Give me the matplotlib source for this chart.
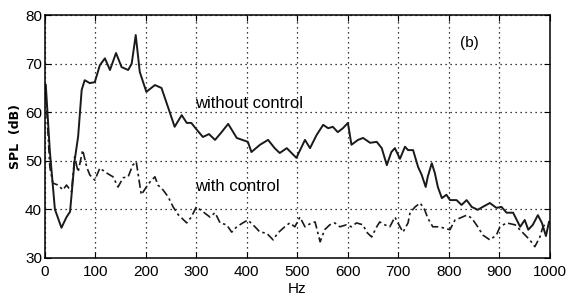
#!/usr/bin/env python3
"""SPL spectrum with and without control, panel (b)."""
import matplotlib
matplotlib.use("Agg")
import matplotlib.pyplot as plt

plt.rcParams.update({
    "font.family": ["Liberation Sans Narrow", "Liberation Sans", "DejaVu Sans"],
    "font.size": 11,
})

# without control (solid)
freq_off = [2, 10, 20, 33, 43, 50, 59, 66, 73, 79, 89, 99, 109, 119, 129, 141,
            152, 165, 172, 180, 188, 201, 218, 231, 248, 257, 271, 281, 290,
            300, 313, 325, 337, 350, 363, 380, 402, 409, 426, 442, 455, 465,
            479, 498, 515, 525, 538, 551, 561, 570, 580, 590, 600, 607, 620,
            630, 644, 657, 667, 677, 686, 693, 703, 713, 719, 729, 739, 746,
            754, 758, 766, 772, 778, 786, 795, 802, 815, 825, 835, 845, 857,
            867, 881, 894, 904, 914, 927, 941, 950, 957, 966, 976, 984, 992, 998]
spl_off = [65.6, 52, 40, 36.2, 38.4, 39.5, 50, 55, 64.6, 66.6, 66, 66.2, 69.7,
           71.1, 68.7, 72.2, 69.3, 68.7, 70, 75.9, 68.3, 64.2, 65.6, 65, 59.8,
           57, 59.4, 57.8, 57.8, 56.5, 54.9, 55.5, 54.3, 55.9, 57.6, 54.7, 53.9,
           51.8, 53.3, 54.3, 52.6, 51.6, 52.6, 50.6, 54.3, 52.6, 55.3, 57.4,
           56.7, 57, 55.9, 56.7, 57.8, 53.3, 54.3, 54.7, 53.7, 53.9, 52.6, 49.1,
           51.8, 52.6, 50.4, 52.9, 52.2, 52.2, 48.7, 47.1, 44.6, 46.7, 49.5,
           47.5, 44.6, 42.3, 43, 41.9, 41.9, 40.9, 41.9, 40.5, 39.9, 40.5, 41.3,
           40.3, 40.5, 39.3, 39.3, 36.4, 37.8, 35.8, 36.8, 38.8, 37.2, 34.5, 37.4]

# with control (dash-dot)
freq_on = [2, 10, 16, 26, 36, 43, 53, 59, 66, 75, 83, 89, 99, 109, 122, 135,
           145, 155, 165, 174, 181, 191, 201, 208, 218, 224, 234, 244, 254,
           264, 281, 290, 300, 313, 327, 337, 347, 360, 370, 380, 392, 402,
           416, 426, 439, 452, 461, 475, 485, 495, 505, 515, 528, 535, 545,
           554, 564, 574, 584, 597, 607, 617, 630, 637, 647, 657, 663, 673,
           683, 693, 699, 709, 719, 723, 733, 743, 752, 758, 768, 778, 788,
           802, 812, 822, 835, 845, 857, 867, 881, 894, 901, 914, 931, 947,
           960, 970, 980, 986, 993]
spl_on = [64, 48.7, 45.4, 45, 44, 45, 43.6, 50.8, 47.7, 52.2, 48.7, 47.1, 46,
          48.5, 47.5, 46.7, 44.6, 46.5, 46.7, 49.1, 49.8, 43, 44.6, 45.6, 46.7,
          45, 44, 42.6, 40.5, 38.9, 37.2, 38.4, 40.5, 39.5, 38.4, 39.3, 37.2,
          36.8, 35.3, 36.4, 37.2, 37.8, 36.4, 35.3, 35.1, 33.7, 35.1, 36.4, 37.2,
          36.4, 38.4, 36.4, 37.2, 37.4, 33.3, 35.8, 36.8, 37.2, 36.4, 36.8,
          36.4, 37.2, 36.8, 35.3, 34.3, 36.4, 37.4, 36.8, 36.4, 38.4, 37.2,
          35.3, 37.2, 39.3, 40.5, 41.3, 39.9, 38.2, 36.4, 36.4, 36.2, 35.8,
          37.8, 38.2, 38.8, 38.2, 36.4, 34.7, 33.7, 34.7, 36.4, 37.2, 36.8,
          35.1, 33.7, 32.3, 34.3, 36.4, 37.2]

x_ticks = [0, 100, 200, 300, 400, 500, 600, 700, 800, 900, 1000]
y_ticks = [30, 40, 50, 60, 70, 80]

fig = plt.figure(figsize=(5.67, 3.03), dpi=100)
ax = fig.add_axes([0.079, 0.149, 0.891, 0.801])

ax.plot(freq_off, spl_off, color="#1a1a1a", lw=1.4)
ax.plot(freq_on, spl_on, color="#1a1a1a", lw=1.2, ls=(0, (5, 2, 1.5, 2)))

ax.set_xlim(0, 1000)
ax.set_ylim(30, 80)
ax.set_xticks(x_ticks)
ax.set_yticks(y_ticks)
ax.grid(True, color="black", ls=(0, (1, 3)), lw=0.9)
ax.tick_params(direction="in", length=4, top=True, right=True, pad=2)
ax.tick_params(axis="x", pad=5)
for s in ax.spines.values():
    s.set_linewidth(1.1)

ax.text(297, 61.9, "without control", va="center", ha="left", fontsize=12)
ax.text(297, 44.6, "with control", va="center", ha="left", fontsize=12)
ax.text(822, 74.2, "(b)", va="center", ha="left")

ax.set_xlabel("Hz", labelpad=2)
ax.set_ylabel("SPL  (dB)", fontweight="bold", family="DejaVu Sans",
              fontsize=9, labelpad=2)

fig.savefig("out.png")
